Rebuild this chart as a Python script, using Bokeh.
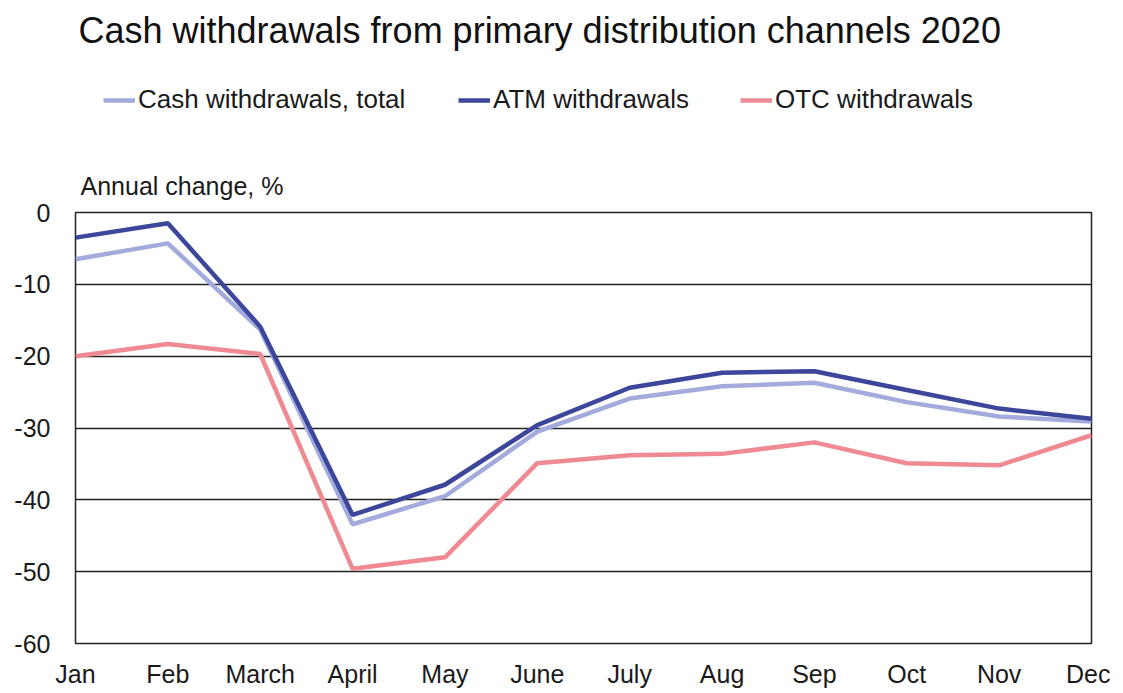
from bokeh.plotting import figure
from bokeh.models import Range1d, FixedTicker, Legend, LegendItem, Title, Label
from bokeh.layouts import column
from bokeh.embed import file_html
from bokeh.resources import INLINE

months = ["Jan", "Feb", "March", "April", "May", "June", "July", "Aug", "Sep", "Oct", "Nov", "Dec"]
total = [-6.5, -4.3, -16.3, -43.4, -39.5, -30.5, -25.9, -24.2, -23.7, -26.4, -28.4, -29.1]
atm = [-3.5, -1.5, -15.9, -42.1, -37.9, -29.6, -24.4, -22.3, -22.1, -24.7, -27.3, -28.7]
otc = [-20.0, -18.3, -19.7, -49.6, -48.0, -34.9, -33.8, -33.6, -32.0, -34.9, -35.2, -31.0]
y_ticks = [-60, -50, -40, -30, -20, -10, 0]
series_names = ["Cash withdrawals, total", "ATM withdrawals", "OTC withdrawals"]
series_colors = ["#a2abdc", "#3c479c", "#f08a92"]

FONT = "Liberation Sans"
W = 1110
LEFT = 75
RIGHT = 1091
TOP_H = 150
LW = 4.5
x = list(range(len(months)))
series = [total, atm, otc]

# ---- header figure: title + legend (its frame is aligned with the chart's frame) ----
head = figure(width=W, height=TOP_H, output_backend="svg", toolbar_location=None,
              x_range=Range1d(0, RIGHT - LEFT), y_range=Range1d(0, TOP_H),
              x_axis_type=None, y_axis_type=None,
              min_border_left=LEFT, min_border_right=W - RIGHT, min_border_top=0, min_border_bottom=0)
head.outline_line_color = None
head.grid.visible = False
head.add_layout(Label(x=3, y=TOP_H - 30, text="Cash withdrawals  from primary distribution  channels 2020",
                      text_font=FONT, text_font_size="36px", text_color="#111111",
                      text_baseline="middle", text_align="left"))

keys = [head.line(x, s, line_color=c, line_width=LW, visible=False) for s, c in zip(series, series_colors)]
leg_x = [28, 383, 665]
for name, r, lx in zip(series_names, keys, leg_x):
    lg = Legend(items=[LegendItem(label=name, renderers=[r])],
                location=(lx, TOP_H - 100 - 15),
                label_text_font=FONT, label_text_font_size="26px", label_text_color="#1a1a1a",
                glyph_width=32, glyph_height=20, label_standoff=3, label_height=20,
                inactive_fill_alpha=0, click_policy="none",
                border_line_color=None, background_fill_alpha=0, padding=0, margin=0)
    head.add_layout(lg)

# ---- main chart ----
p = figure(width=W, height=540, output_backend="svg", toolbar_location=None,
           x_range=Range1d(0, len(months) - 1), y_range=Range1d(-60, 0),
           min_border_left=LEFT, min_border_right=W - RIGHT, min_border_bottom=44, min_border_top=62)

for s, c in zip(series, series_colors):
    p.line(x, s, line_color=c, line_width=LW)

p.outline_line_color = "#222222"
p.outline_line_width = 1.5
p.xgrid.visible = False
p.ygrid.grid_line_color = "#222222"
p.ygrid.grid_line_width = 1.3
p.ygrid.ticker = FixedTicker(ticks=y_ticks)

p.yaxis.ticker = FixedTicker(ticks=y_ticks)
p.yaxis.major_label_overrides = {t: str(t) for t in y_ticks}
p.xaxis.ticker = FixedTicker(ticks=x)
p.xaxis.major_label_overrides = {i: m for i, m in enumerate(months)}
for ax in (p.xaxis[0], p.yaxis[0]):
    ax.axis_line_color = None
    ax.major_tick_line_color = None
    ax.minor_tick_line_color = None
    ax.major_tick_out = 0
    ax.major_tick_in = 0
    ax.major_label_text_font = FONT
    ax.major_label_text_font_size = "25px"
    ax.major_label_text_color = "#1a1a1a"
p.yaxis.major_label_standoff = 25
p.xaxis.major_label_standoff = 16

sub = Title(text="Annual change, %", text_font=FONT, text_font_size="25px",
            text_font_style="normal", text_color="#1a1a1a", align="left", offset=5, standoff=25)
p.add_layout(sub, "above")

open("out.html", "w").write(file_html(column(head, p, spacing=0), INLINE))
